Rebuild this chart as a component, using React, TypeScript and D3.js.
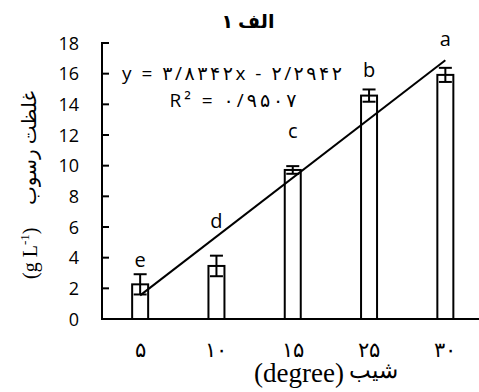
import React, { useEffect, useRef } from 'react';
import * as d3 from 'd3';

const categories = ['۵', '۱۰', '۱۵', '۲۵', '۳۰'];
const means = [2.26, 3.46, 9.72, 14.57, 15.92];
const errors = [0.66, 0.67, 0.25, 0.4, 0.46];
const letters = ['e', 'd', 'c', 'b', 'a'];
const letterY = [3.41, 5.94, 11.8, 15.77, 17.8];
const yTicks = [0, 2, 4, 6, 8, 10, 12, 14, 16, 18];
const slope = 3.8342;
const intercept = -2.2942;
const equationText = 'y = ۳/۸۳۴۲x - ۲/۲۹۴۲';
const r2Text = 'R² =  ۰/۹۵۰۷';

const App = () => {
  const ref = useRef<SVGSVGElement | null>(null);

  useEffect(() => {
    drawChart();
  }, []);

  const drawChart = () => {
    const svg = d3.select(ref.current);
    svg.selectAll('*').remove();

    const left = 102;
    const right = 483.5;
    const top = 43;
    const bottom = 319;
    const sans = "'Open Sans', 'DejaVu Sans', sans-serif";
    const serif = "'Liberation Serif', 'DejaVu Serif', serif";

    const x = d3.scalePoint<string>().domain(categories).range([left, right]).padding(0.5);
    const y = d3.scaleLinear().domain([0, 18]).range([bottom, top]);
    const xi = d3.scaleLinear().domain([1, 5]).range([x(categories[0])!, x(categories[4])!]);
    const barW = 16;

    // title
    svg.append('text')
      .attr('x', 248).attr('y', 28)
      .attr('text-anchor', 'middle')
      .attr('font-family', sans).attr('font-weight', 'bold').attr('font-size', 19)
      .text('الف ۱');

    // bars
    const g = svg.append('g');
    g.selectAll('rect.bar')
      .data(means)
      .enter().append('rect')
      .attr('class', 'bar')
      .attr('x', (d, i) => x(categories[i])! - barW / 2)
      .attr('y', d => y(d))
      .attr('width', barW)
      .attr('height', d => y(0) - y(d))
      .attr('fill', 'white')
      .attr('stroke', 'black')
      .attr('stroke-width', 2);

    // error bars
    means.forEach((m, i) => {
      const cx = x(categories[i])!;
      const e = errors[i];
      g.append('line')
        .attr('x1', cx).attr('x2', cx)
        .attr('y1', y(m - e)).attr('y2', y(m + e))
        .attr('stroke', 'black').attr('stroke-width', 2);
      [m - e, m + e].forEach(v => {
        g.append('line')
          .attr('x1', cx - 6.5).attr('x2', cx + 6.5)
          .attr('y1', y(v)).attr('y2', y(v))
          .attr('stroke', 'black').attr('stroke-width', 2);
      });
    });

    // trendline
    g.append('line')
      .attr('x1', xi(1)).attr('y1', y(slope * 1 + intercept))
      .attr('x2', xi(5)).attr('y2', y(slope * 5 + intercept))
      .attr('stroke', 'black').attr('stroke-width', 2);

    // letters
    g.selectAll('text.letter')
      .data(letters)
      .enter().append('text')
      .attr('class', 'letter')
      .attr('x', (d, i) => x(categories[i])!)
      .attr('y', (d, i) => y(letterY[i]))
      .attr('text-anchor', 'middle')
      .attr('font-family', sans).attr('font-size', 20)
      .text(d => d);

    // axes
    svg.append('line')
      .attr('x1', left).attr('x2', left).attr('y1', top - 1).attr('y2', bottom)
      .attr('stroke', 'black').attr('stroke-width', 2);
    svg.append('line')
      .attr('x1', left - 1).attr('x2', right).attr('y1', bottom).attr('y2', bottom)
      .attr('stroke', 'black').attr('stroke-width', 2);

    svg.selectAll('line.ytick')
      .data(yTicks)
      .enter().append('line')
      .attr('class', 'ytick')
      .attr('x1', left).attr('x2', left + 7)
      .attr('y1', d => y(d)).attr('y2', d => y(d))
      .attr('stroke', 'black').attr('stroke-width', 2);

    svg.selectAll('text.ylab')
      .data(yTicks)
      .enter().append('text')
      .attr('class', 'ylab')
      .attr('x', 79)
      .attr('y', d => y(d) + 6.5)
      .attr('text-anchor', 'end')
      .attr('font-family', sans).attr('font-size', 18)
      .text(d => d);

    svg.selectAll('text.xlab')
      .data(categories)
      .enter().append('text')
      .attr('class', 'xlab')
      .attr('x', d => x(d)!)
      .attr('y', 357)
      .attr('text-anchor', 'middle')
      .attr('font-family', serif).attr('font-size', 21)
      .text(d => d);

    // equation
    svg.append('text')
      .attr('x', 232).attr('y', 80)
      .attr('text-anchor', 'middle')
      .attr('font-family', sans).attr('font-size', 19)
      .attr('textLength', 220).attr('lengthAdjust', 'spacing')
      .text(equationText);
    svg.append('text')
      .attr('x', 233).attr('y', 107)
      .attr('text-anchor', 'middle')
      .attr('font-family', sans).attr('font-size', 19)
      .attr('textLength', 127).attr('lengthAdjust', 'spacing')
      .text(r2Text);

    // y axis title
    const yt = svg.append('g').attr('transform', 'rotate(-90)');
    const unit = yt.append('text')
      .attr('x', -279).attr('y', 37)
      .attr('font-family', serif).attr('font-size', 20);
    unit.append('tspan').text('(g L');
    unit.append('tspan').attr('font-size', 13).attr('dy', -8).text('-1');
    unit.append('tspan').attr('dy', 8).text(')');
    yt.append('text')
      .attr('x', -205).attr('y', 36)
      .attr('font-family', sans).attr('font-size', 20)
      .text('غلظت رسوب');

    // x axis title
    svg.append('text')
      .attr('x', 344).attr('y', 382)
      .attr('text-anchor', 'end')
      .attr('font-family', serif).attr('font-size', 27)
      .text('(degree)');
    svg.append('text')
      .attr('x', 349).attr('y', 378)
      .attr('font-family', serif).attr('font-size', 23)
      .text('شیب');
  };

  return (
    <svg
      ref={ref}
      width={479}
      height={392}
      style={{ position: 'absolute', left: 0, top: 0, background: 'white' }}
    />
  );
};

export default App;
